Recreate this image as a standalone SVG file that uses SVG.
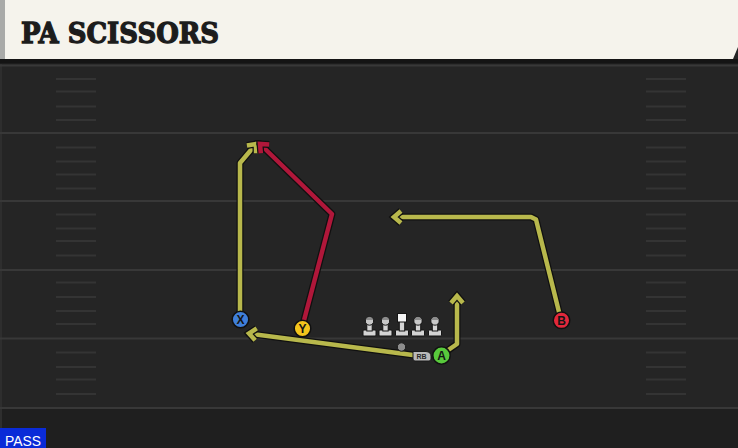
<svg xmlns="http://www.w3.org/2000/svg" width="738" height="448" viewBox="0 0 738 448">
<defs>
<style>
.yard{stroke:#383838;stroke-width:2.2}
.hash{stroke:#343434;stroke-width:2}
.out{fill:none;stroke:#101010;stroke-width:7;stroke-linejoin:round;stroke-linecap:round}
.ol{fill:none;stroke:#b8b84c;stroke-width:4.5;stroke-linejoin:round}
.rd{fill:none;stroke:#b0173a;stroke-width:4.5;stroke-linejoin:round}
.pl{stroke:#111;stroke-width:1.5}
.lbl{font-family:"Liberation Sans",Arial,sans-serif;font-weight:bold;font-size:12px;fill:#151515;text-anchor:middle}
.ln{fill:#d4d4d4;stroke:#141414;stroke-width:1}
</style>
<marker id="aOl" markerUnits="userSpaceOnUse" viewBox="-10 -10 14 20" refX="0" refY="0" markerWidth="14" markerHeight="20" orient="auto" overflow="visible">
<path d="M-7,-6 L0,0 L-7,6" fill="none" stroke="#101010" stroke-width="7" stroke-linejoin="miter"/>
<path d="M-7,-6 L0,0 L-7,6" fill="none" stroke="#b8b84c" stroke-width="4.5" stroke-linejoin="miter"/>
</marker>
<marker id="aRd" markerUnits="userSpaceOnUse" viewBox="-10 -10 14 20" refX="0" refY="0" markerWidth="14" markerHeight="20" orient="auto" overflow="visible">
<path d="M-7,-6 L0,0 L-7,6" fill="none" stroke="#101010" stroke-width="7" stroke-linejoin="miter"/>
<path d="M-7,-6 L0,0 L-7,6" fill="none" stroke="#b0173a" stroke-width="4.5" stroke-linejoin="miter"/>
</marker>
</defs>

<rect x="0" y="0" width="738" height="448" fill="#252525"/>
<rect x="0" y="408" width="738" height="40" fill="#1f1f1f"/>
<rect x="0" y="64" width="2" height="384" fill="#2e2e2e"/>

<g id="field">
<line class="yard" x1="0" y1="65.5" x2="738" y2="65.5"/>
<line class="yard" x1="0" y1="133" x2="738" y2="133"/>
<line class="yard" x1="0" y1="201" x2="738" y2="201"/>
<line class="yard" x1="0" y1="270" x2="738" y2="270"/>
<line class="yard" x1="0" y1="338.5" x2="738" y2="338.5"/>
<line class="yard" x1="0" y1="408" x2="738" y2="408"/>
<g id="hashL">
<line class="hash" x1="56" y1="79" x2="96" y2="79"/>
<line class="hash" x1="56" y1="91.5" x2="96" y2="91.5"/>
<line class="hash" x1="56" y1="106.5" x2="96" y2="106.5"/>
<line class="hash" x1="56" y1="120" x2="96" y2="120"/>
<line class="hash" x1="56" y1="147.5" x2="96" y2="147.5"/>
<line class="hash" x1="56" y1="161.5" x2="96" y2="161.5"/>
<line class="hash" x1="56" y1="174.5" x2="96" y2="174.5"/>
<line class="hash" x1="56" y1="188.5" x2="96" y2="188.5"/>
<line class="hash" x1="56" y1="214.5" x2="96" y2="214.5"/>
<line class="hash" x1="56" y1="228.5" x2="96" y2="228.5"/>
<line class="hash" x1="56" y1="241" x2="96" y2="241"/>
<line class="hash" x1="56" y1="255.5" x2="96" y2="255.5"/>
<line class="hash" x1="56" y1="282.5" x2="96" y2="282.5"/>
<line class="hash" x1="56" y1="297" x2="96" y2="297"/>
<line class="hash" x1="56" y1="311" x2="96" y2="311"/>
<line class="hash" x1="56" y1="324" x2="96" y2="324"/>
<line class="hash" x1="56" y1="352.5" x2="96" y2="352.5"/>
<line class="hash" x1="56" y1="367" x2="96" y2="367"/>
<line class="hash" x1="56" y1="379.5" x2="96" y2="379.5"/>
<line class="hash" x1="56" y1="394" x2="96" y2="394"/>
</g>
<use href="#hashL" x="590"/>
</g>

<g id="header">
<polygon points="5,0 738,0 738,47 733,59 5,59" fill="#f5f3ec"/>
<rect x="0" y="0" width="5" height="60" fill="#a9aaa8"/>
<rect x="0" y="59" width="738" height="4.5" fill="#141414"/>
<text x="21" y="42.5" font-family="'DejaVu Serif','Liberation Serif',serif" font-weight="bold" font-size="28" textLength="198" lengthAdjust="spacingAndGlyphs" fill="#1c1c1c" stroke="#1c1c1c" stroke-width="1.3" stroke-linejoin="miter">PA SCISSORS</text>
</g>

<g id="connectors">
<path class="out" d="M240,318 L240,163 L256,144"/>
<path class="ol" d="M240,318 L240,163 L256,144" marker-end="url(#aOl)"/>
<path class="out" d="M302,328 L332,214 L260,144"/>
<path class="rd" d="M302,328 L332,214 L260,144" marker-end="url(#aRd)"/>
<path class="out" d="M561,320 L536,219.5 L531,217 L394,217"/>
<path class="ol" d="M561,320 L536,219.5 L531,217 L394,217" marker-end="url(#aOl)"/>
<path class="out" d="M441,355 L457,344 L457,296"/>
<path class="ol" d="M441,355 L457,344 L457,296" marker-end="url(#aOl)"/>
<path class="out" d="M428,357 L249,333.5"/>
<path class="ol" d="M428,357 L249,333.5" marker-end="url(#aOl)"/>
</g>

<g id="line">
<g id="lt1">
<rect class="ln" x="363" y="330" width="13" height="6" rx="1"/>
<rect class="ln" x="366.8" y="322" width="5.4" height="9"/>
<circle cx="369.5" cy="321" r="4.2" fill="#c8c8c8" stroke="#141414" stroke-width="1"/>
<path d="M365.8,320 A3.8,3.8 0 0 1 373.2,320 Z" fill="#8c8c8c"/>
</g>
<use href="#lt1" x="16"/>
<g id="center">
<rect class="ln" x="395.5" y="330" width="13" height="6" rx="1"/>
<rect class="ln" x="399.3" y="321" width="5.4" height="10"/>
<rect x="397.5" y="313.5" width="9" height="8.5" fill="#f4f4f4" stroke="#141414" stroke-width="1"/>
</g>
<use href="#lt1" x="48.5"/>
<use href="#lt1" x="65.5"/>
</g>

<g id="qb">
<circle cx="401.5" cy="347" r="4.2" fill="#8d8d8d" stroke="#1a1a1a" stroke-width="1"/>
</g>

<g id="rb">
<path d="M413,351.5 L426,351.5 Q431,352 431,356 L431,359 Q431,361 429,361 L415,361 Q413,361 413,359 Z" fill="#b9b9b9" stroke="#1a1a1a" stroke-width="1"/>
<text x="421.5" y="359" font-family="'Liberation Sans',Arial,sans-serif" font-weight="bold" font-size="7" fill="#2a2a2a" text-anchor="middle">RB</text>
</g>

<g id="pX">
<circle class="pl" cx="240.5" cy="319.5" r="8.3" fill="#3f7fda"/>
<text class="lbl" x="240.5" y="323.8">X</text>
</g>
<g id="pY">
<circle class="pl" cx="302.5" cy="328.5" r="8.3" fill="#f3c51c"/>
<text class="lbl" x="302.5" y="332.8">Y</text>
</g>
<g id="pB">
<circle class="pl" cx="561.5" cy="320.3" r="8.3" fill="#e2283b"/>
<text class="lbl" x="561.5" y="324.6">B</text>
</g>
<g id="pA">
<circle class="pl" cx="441.5" cy="355.5" r="8.7" fill="#58c93c"/>
<text class="lbl" x="441.5" y="359.8">A</text>
</g>

<g id="tag">
<rect x="0" y="428" width="46" height="20" fill="#0a2bd8"/>
<text x="5" y="445.5" font-family="'Liberation Sans',Arial,sans-serif" font-size="15.5" fill="#ffffff" textLength="36" lengthAdjust="spacingAndGlyphs">PASS</text>
</g>
</svg>
